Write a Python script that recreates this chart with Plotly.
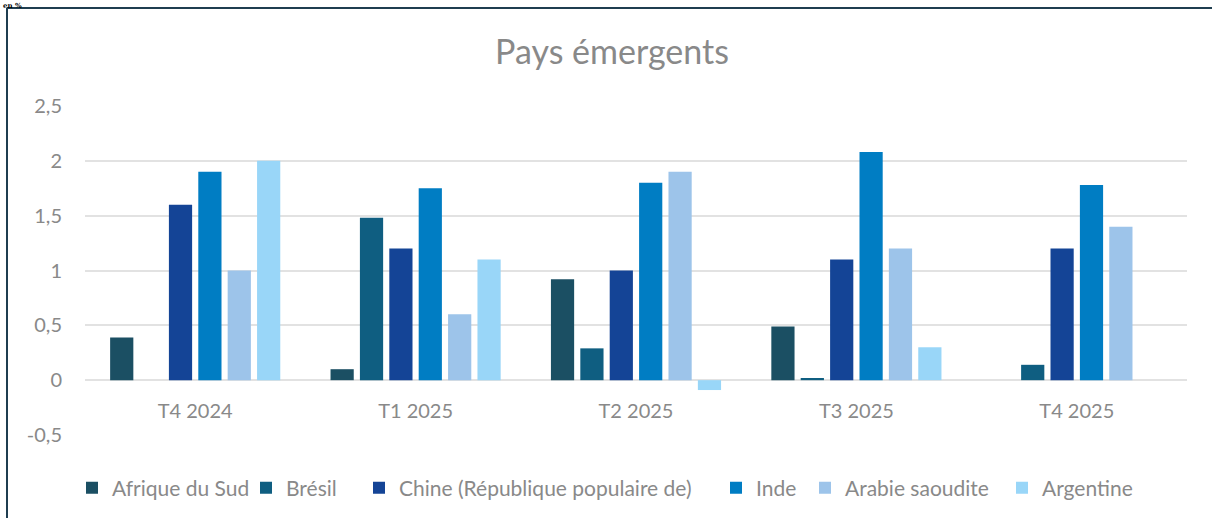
import plotly.graph_objects as go

categories = ["T4 2024", "T1 2025", "T2 2025", "T3 2025", "T4 2025"]
series_names = ["Afrique du Sud", "Brésil", "Chine (République populaire de)", "Inde", "Arabie saoudite", "Argentine"]
afrique_du_sud = [0.39, 0.10, 0.92, 0.49, None]
bresil = [None, 1.48, 0.29, 0.02, 0.14]
chine = [1.60, 1.20, 1.00, 1.10, 1.20]
inde = [1.90, 1.75, 1.80, 2.08, 1.78]
arabie_saoudite = [1.00, 0.60, 1.90, 1.20, 1.40]
argentine = [2.00, 1.10, -0.09, 0.30, None]
colors = ["#1b4f63", "#0f5e81", "#144496", "#007dc3", "#9dc4ea", "#99d6f8"]
y_tickvals = [-0.5, 0, 0.5, 1, 1.5, 2, 2.5]
y_ticktext = ["-0,5", "0", "0,5", "1", "1,5", "2", "2,5"]

W, H = 1212, 518
L, R, T, B = 85, 25, 106, 83
pw, ph = W - L - R, H - T - B

def px(x):
    return (x - L) / pw

def py(y):
    return (H - B - y) / ph

FONT = "Lato, Carlito, Calibri, sans-serif"
GRAY = "#898989"

# legend text start positions (pixels) for each series
legend_text_x = [113, 287, 400, 757, 846, 1043]
LEG_OFF = 41

fig = go.Figure()
all_series = [afrique_du_sud, bresil, chine, inde, arabie_saoudite, argentine]
legend_layouts = {}
for i, (name, vals, c) in enumerate(zip(series_names, all_series, colors)):
    lname = "legend" if i == 0 else f"legend{i + 1}"
    fig.add_trace(go.Bar(x=categories, y=vals, name=name, legend=lname,
                         marker=dict(color=c, line=dict(width=0))))
    legend_layouts[lname] = dict(orientation="h", xref="container", yref="container",
                                 x=(legend_text_x[i] - LEG_OFF) / W, xanchor="left",
                                 y=1 - 488 / H, yanchor="middle",
                                 font=dict(size=21, color=GRAY, family=FONT),
                                 itemwidth=30, bgcolor="rgba(0,0,0,0)")

zero_pos = (0 - (-0.5)) / 3.0

fig.update_layout(
    width=W, height=H,
    margin=dict(l=L, r=R, t=T, b=B, autoexpand=False),
    paper_bgcolor="white", plot_bgcolor="white",
    barmode="group", bargap=0.2, bargroupgap=0.21,
    font=dict(family=FONT, color=GRAY),
    title=dict(text="Pays émergents", x=612 / W, xref="container", xanchor="center",
               y=1 - 52 / H, yref="container", yanchor="middle",
               font=dict(size=34, color=GRAY, family=FONT)),
    xaxis=dict(anchor="free", position=zero_pos, showgrid=False, showline=False, ticks="",
               tickfont=dict(size=20, color=GRAY), ticklabelstandoff=17, automargin=False),
    yaxis=dict(range=[-0.5, 2.5], tickvals=y_tickvals, ticktext=y_ticktext, showgrid=True,
               gridcolor="#e2e2e2", gridwidth=1.6, zeroline=False, showline=False, ticks="",
               tickfont=dict(size=20, color=GRAY), ticklabelstandoff=22, automargin=False),
    showlegend=True,
    **legend_layouts,
)

# chart frame (top and left edges visible)
fig.add_shape(type="line", xref="paper", yref="paper", x0=px(7), x1=px(W + 10), y0=py(8), y1=py(8),
              line=dict(color="#1f3e50", width=2))
fig.add_shape(type="line", xref="paper", yref="paper", x0=px(7), x1=px(7), y0=py(8), y1=py(H + 10),
              line=dict(color="#1f3e50", width=2))

fig.add_annotation(text="<b>en %</b>", xref="paper", yref="paper", x=px(2), y=py(0),
                   xanchor="left", yanchor="top", showarrow=False, borderpad=0,
                   font=dict(family="DejaVu Serif, serif", size=7, color="black"))

fig.write_html("out.html", config={"displayModeBar": False},
               post_script="document.body.style.margin='0';document.body.style.overflow='hidden';")
